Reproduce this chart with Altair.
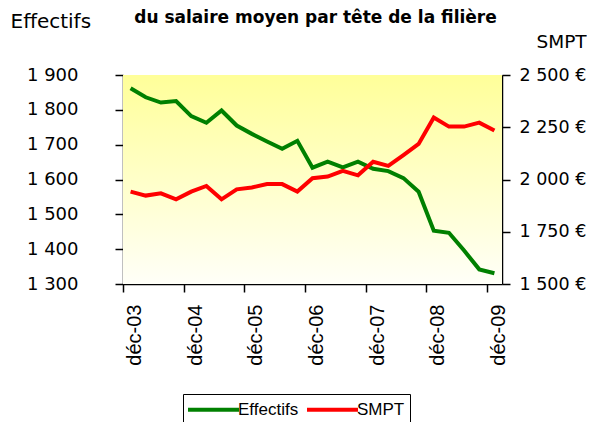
import altair as alt
import pandas as pd

# ---- data ----
quarters = ["déc-03", "mars-04", "juin-04", "sept-04",
            "déc-04", "mars-05", "juin-05", "sept-05",
            "déc-05", "mars-06", "juin-06", "sept-06",
            "déc-06", "mars-07", "juin-07", "sept-07",
            "déc-07", "mars-08", "juin-08", "sept-08",
            "déc-08", "mars-09", "juin-09", "sept-09",
            "déc-09"]
effectifs = [1862, 1836, 1821, 1825, 1782, 1763, 1798, 1755, 1731, 1709,
             1688, 1711, 1634, 1651, 1635, 1651, 1631, 1624, 1604, 1565,
             1453, 1447, 1396, 1342, 1331]
smpt = [1942, 1923, 1934, 1905, 1942, 1969, 1905, 1953, 1962, 1978,
        1978, 1942, 2006, 2014, 2041, 2020, 2085, 2065, 2117, 2170,
        2297, 2253, 2253, 2272, 2234]
series_names = ["Effectifs", "SMPT"]
series_colors = ["#008000", "#FF0000"]
left_ticks = [1300, 1400, 1500, 1600, 1700, 1800, 1900]
right_ticks = [1500, 1750, 2000, 2250, 2500]
tick_index = [0, 4, 8, 12, 16, 20, 24]
tick_labels = [quarters[i] for i in tick_index]

df = pd.DataFrame({"i": list(range(len(quarters))), "trimestre": quarters,
                   "Effectifs": effectifs, "SMPT": smpt})
long = df.melt(id_vars=["i", "trimestre"], value_vars=series_names,
               var_name="serie", value_name="valeur")

W, H = 379, 209
n = len(quarters)
half = W / n / 2

label_expr = " : ".join(f"datum.value == {i} ? '{t}'" for i, t in zip(tick_index, tick_labels)) + " : ''"

x_enc = alt.X(
    "i:Q",
    scale=alt.Scale(domain=[-0.5, n - 0.5], nice=False, zero=False),
    axis=alt.Axis(values=tick_index, labelExpr=label_expr, tickOffset=-half,
                  labelOffset=half + 4, labelAngle=270, labelAlign="right",
                  labelBaseline="middle", labelFont="Liberation Sans",
                  labelFontSize=20, labelColor="black", labelPadding=12,
                  tickSize=8, tickColor="black", tickWidth=1.5,
                  domainColor="black", domainWidth=1.5, grid=False, title=None),
)

color_enc = alt.Color(
    "serie:N",
    scale=alt.Scale(domain=series_names, range=series_colors),
    legend=alt.Legend(orient="none", legendX=60, legendY=319, direction="horizontal",
                      symbolType="M-3,0H3", symbolSize=289, symbolStrokeWidth=4,
                      symbolOffset=15,
                      labelFont="Liberation Sans", labelFontSize=17, labelColor="black",
                      strokeColor="black", fillColor="white", padding=5,
                      columnPadding=0, labelOffset=14, title=None),
)

bg = alt.Chart(pd.DataFrame({"a": [0]})).mark_rect(
    color=alt.Gradient(gradient="linear",
                       stops=[alt.GradientStop(color="#FFFF99", offset=0),
                              alt.GradientStop(color="#FFFFF8", offset=1)],
                       x1=0, x2=0, y1=0, y2=1)
).encode(x=alt.value(0), x2=alt.value(W), y=alt.value(0), y2=alt.value(H))

eff_line = alt.Chart(long).transform_filter(alt.datum.serie == "Effectifs").mark_line(
    strokeWidth=4
).encode(
    x=x_enc,
    y=alt.Y("valeur:Q", scale=alt.Scale(domain=[1300, 1900], nice=False, zero=False),
            axis=alt.Axis(values=left_ticks,
                          labelExpr="replace(format(datum.value, ','), ',', ' ')",
                          labelFont="DejaVu Sans", labelFontSize=18, labelColor="black",
                          labelPadding=37, tickSize=8, tickColor="black", tickWidth=1.5,
                          domainColor="black", domainWidth=1.5,
                          grid=True, gridColor="#888888", gridWidth=1,
                          title="Effectifs", titleAngle=0, titleAlign="left",
                          titleBaseline="alphabetic", titleX=-113, titleY=-48,
                          titleFont="DejaVu Sans", titleFontSize=20,
                          titleFontWeight="normal", titleColor="black")),
    color=color_enc,
)

smpt_line = alt.Chart(long).transform_filter(alt.datum.serie == "SMPT").mark_line(
    strokeWidth=4
).encode(
    x=x_enc,
    y=alt.Y("valeur:Q", scale=alt.Scale(domain=[1500, 2500], nice=False, zero=False),
            axis=alt.Axis(orient="right", values=right_ticks,
                          labelExpr="replace(format(datum.value, ','), ',', ' ') + ' €'",
                          labelFont="DejaVu Sans", labelFontSize=17.5, labelColor="black",
                          labelPadding=9, tickSize=8, tickColor="black", tickWidth=1.5,
                          domainColor="black", domainWidth=1.5, grid=False,
                          title="SMPT", titleAngle=0, titleAlign="left",
                          titleBaseline="alphabetic", titleX=34, titleY=-28,
                          titleFont="DejaVu Sans", titleFontSize=18.5,
                          titleFontWeight="normal", titleColor="black")),
    color=color_enc,
)

chart = alt.layer(alt.layer(bg, eff_line), smpt_line).resolve_scale(
    y="independent"
).properties(
    width=W, height=H,
    title=alt.TitleParams("du salaire moyen par tête de la filière",
                          font="DejaVu Sans", fontSize=17, fontWeight="bold",
                          color="black", anchor="middle", offset=0, dy=16, dx=3),
    autosize=alt.AutoSizeParams(type="none"),
    padding={"left": 115, "top": 67, "right": 85, "bottom": 138},
).configure_view(stroke=None).configure(background="white")

chart.save("out.html", embed_options={"renderer": "svg", "actions": False})
